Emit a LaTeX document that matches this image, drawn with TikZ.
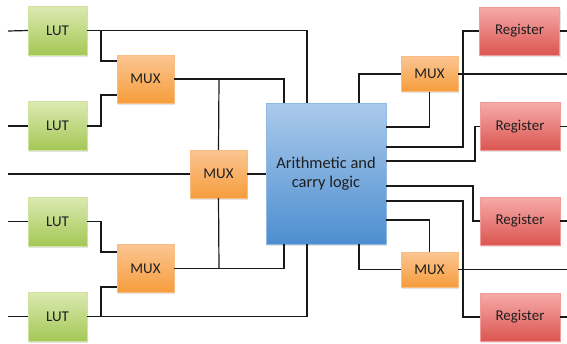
\documentclass[tikz,border=0pt]{standalone}
\usepackage{fontspec}
\setmainfont{Carlito}
\usetikzlibrary{calc,shadows}

\definecolor{lutTop}{HTML}{DCE9B2}
\definecolor{lutBot}{HTML}{A4C855}
\definecolor{muxTop}{HTML}{FBC592}
\definecolor{muxBot}{HTML}{F69D3C}
\definecolor{regTop}{HTML}{F6ABA9}
\definecolor{regBot}{HTML}{DB5550}
\definecolor{aluTop}{HTML}{ABCAEB}
\definecolor{aluBot}{HTML}{4D8ED0}

\begin{document}
\begin{tikzpicture}[
  x=1bp,
  y=-1bp,
  block/.style={rectangle,inner sep=0pt,font=\fontsize{15}{17}\selectfont,text=black!88,
    drop shadow={shadow xshift=1bp,shadow yshift=-1.5bp,opacity=0.22}},
  lut/.style={block,draw=lutTop!80!lutBot,top color=lutTop,bottom color=lutBot,
    minimum width=59bp,minimum height=49bp},
  mux/.style={block,draw=muxTop!80!muxBot,top color=muxTop,bottom color=muxBot,
    minimum width=57bp,minimum height=48bp},
  smux/.style={mux,minimum height=35bp},
  reg/.style={block,draw=regTop!80!regBot,top color=regTop,bottom color=regBot,
    minimum width=80bp,minimum height=48bp},
  alu/.style={block,draw=aluTop!70!aluBot,top color=aluTop,bottom color=aluBot,
    minimum width=120bp,minimum height=141bp,align=center,
    font=\fontsize{16.5}{19}\selectfont},
  wire/.style={draw=black!90,line width=1.2bp}
]
\useasboundingbox (0,0) rectangle (567,343);
\clip (0,0) rectangle (567,343);

% lookup tables
\node[lut] (lut1) at (57.5,30.5) {LUT};
\node[lut] (lut2) at (57.5,126) {LUT};
\node[lut] (lut3) at (57.5,221.5) {LUT};
\node[lut] (lut4) at (57.5,316.5) {LUT};

% multiplexers
\node[mux] (muxA) at (145.5,79) {MUX};
\node[mux] (muxB) at (145.5,268.5) {MUX};
\node[mux] (muxC) at (218.5,174) {MUX};
\node[smux] (muxD) at (429.5,74) {MUX};
\node[smux] (muxE) at (429.5,269.5) {MUX};

% carry chain
\node[alu] (alu) at (326,173.5) {Arithmetic and\\carry logic};

% registers
\node[reg] (reg1) at (519.5,31) {Register};
\node[reg] (reg2) at (520,126.5) {Register};
\node[reg] (reg3) at (520,221) {Register};
\node[reg] (reg4) at (520,317) {Register};

% free ends
\coordinate (in1) at (8,31);
\coordinate (in2) at (8,126);
\coordinate (in3) at (8,221.5);
\coordinate (in4) at (8,316.5);
\coordinate (in5) at (8,174);
\coordinate (outD) at (567,74);
\coordinate (outE) at (567,269.5);

% taps
\coordinate (tap1) at (101,31);
\coordinate (tap4) at (101,316.5);
\coordinate (tapA) at (219,79);
\coordinate (tapB) at (219,268.5);

% inputs
\draw[wire] (in1) -- (lut1.west);
\draw[wire] (in2) -- (lut2.west);
\draw[wire] (in3) -- (lut3.west);
\draw[wire] (in4) -- (lut4.west);
\draw[wire] (in5) -- (muxC.west);

% left side
\draw[wire] (lut1.east) -| ($(alu.north)+(-19,0)$);
\draw[wire] (tap1) |- ($(muxA.west)+(0,-18)$);
\draw[wire] (lut2.east) -| (tap1 |- 0,110) |- ($(muxA.west)+(0,16)$);
\draw[wire] (muxA.east) -| ($(alu.north)+(-42,0)$);
\draw[wire] (tapA) -- (muxC.north);
\draw[wire] (muxC.east) -- (alu.west |- muxC.east);
\draw[wire] (muxC.south) -- (tapB);
\draw[wire] (muxB.east) -| ($(alu.south)+(-42,0)$);
\draw[wire] (lut3.east) -| (tap1 |- 0,240) |- ($(muxB.west)+(0,-16.5)$);
\draw[wire] (lut4.east) -| ($(alu.south)+(-19,0)$);
\draw[wire] (tap4) |- ($(muxB.west)+(0,18.5)$);

% right side
\draw[wire] ($(alu.north)+(33,0)$) |- (muxD.west);
\draw[wire] (muxD.east) -- (outD);
\draw[wire] ($(alu.east)+(0,-46.5)$) -| (muxD.south);
\draw[wire] ($(alu.east)+(0,-26.5)$) -| (463,100) |- (reg1.west);
\draw[wire] ($(alu.east)+(0,-12.5)$) -| (475,140) |- (reg2.west);
\draw[wire] ($(alu.east)+(0,12.5)$) -| (473,200) |- (reg3.west);
\draw[wire] ($(alu.east)+(0,27.5)$) -| (463,260) |- (reg4.west);
\draw[wire] ($(alu.east)+(0,46.5)$) -| (muxE.north);
\draw[wire] ($(alu.south)+(33,0)$) |- (muxE.west);
\draw[wire] (muxE.east) -- (outE);

% register outputs
\foreach \r in {reg1,reg2,reg3,reg4}
  \draw[wire] (\r.east) -- (\r.east -| outD);
\end{tikzpicture}
\end{document}
